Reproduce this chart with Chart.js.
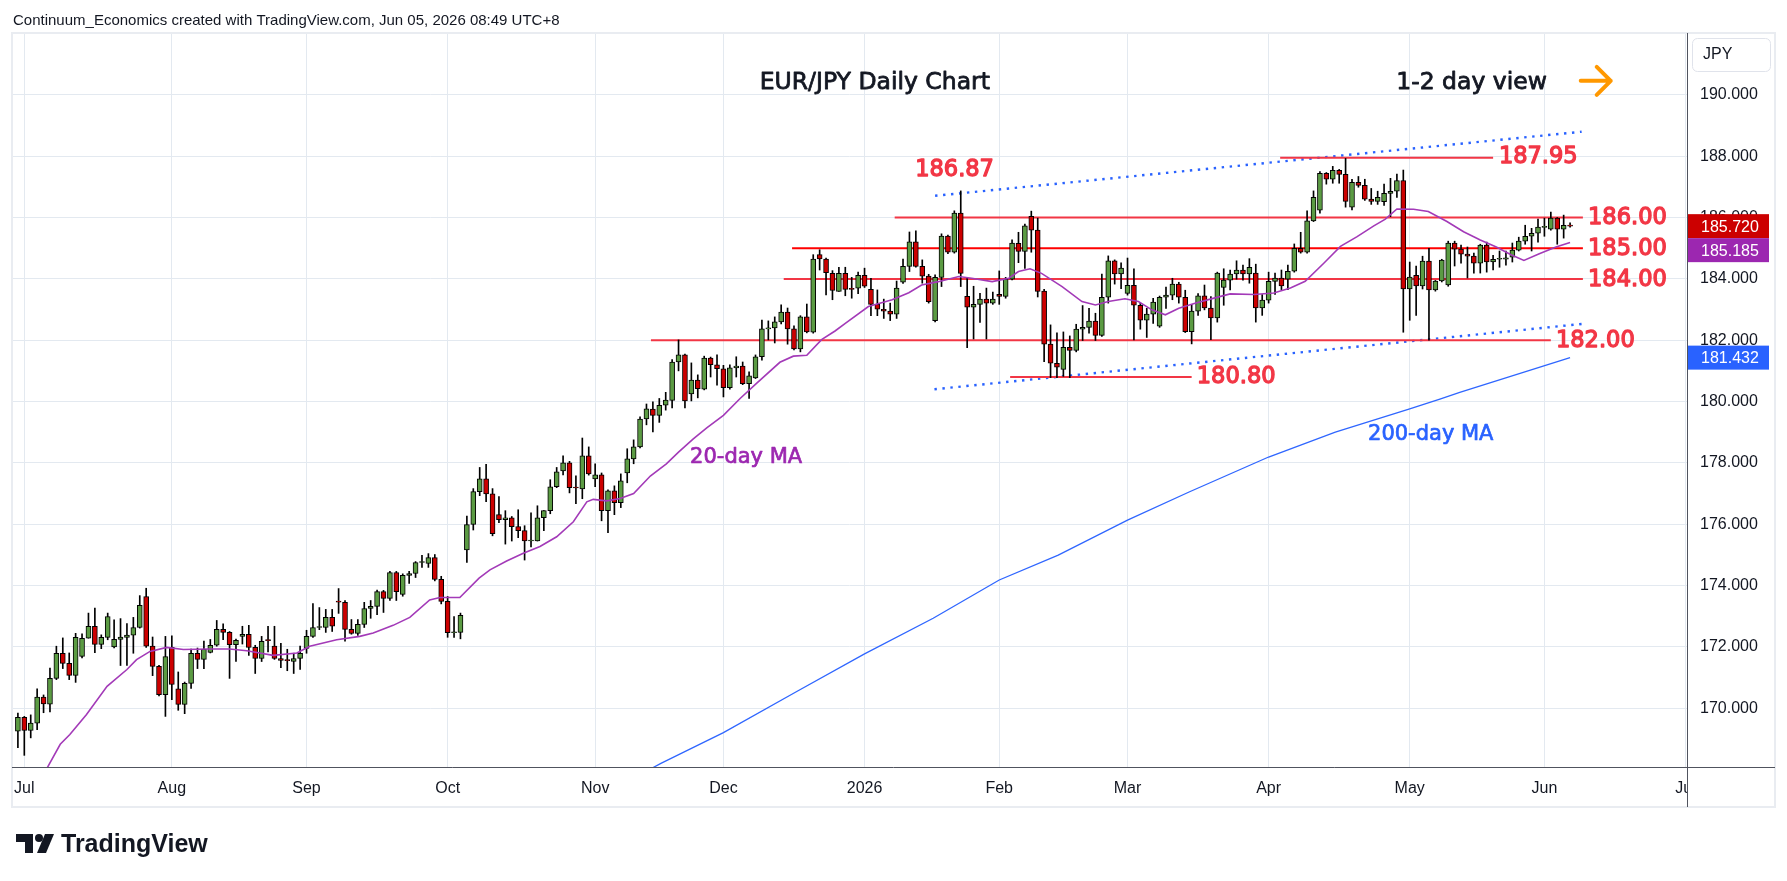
<!DOCTYPE html>
<html>
<head>
<meta charset="utf-8">
<script src="https://cdn.jsdelivr.net/npm/chart.js@4.4.1/dist/chart.umd.min.js"></script>
<style>
  html, body { margin: 0; padding: 0; background: #fff; }
  canvas { display: block; }
</style>
</head>
<body>
<canvas id="chart" width="1787" height="881"></canvas>
<script>
// trading days: weekdays from 30 Jun 2025 to 1 Jul 2026, minus the two FX holidays
const firstDay = '2025-06-30';
const lastDay = '2026-07-01';
const holidays = ['2025-12-25', '2026-01-01'];
const monthShort = ['Jan', 'Feb', 'Mar', 'Apr', 'May', 'Jun', 'Jul', 'Aug', 'Sep', 'Oct', 'Nov', 'Dec'];

// EUR/JPY daily OHLC, one value per trading day (index 0 = 30 Jun 2025)
const opens = [
  169.25,169.70,169.27,169.51,170.36,170.13,170.97,171.79,171.46,171.07,
  171.69,172.28,172.67,172.08,172.31,172.00,172.24,172.31,172.38,172.63,
  173.64,172.02,171.36,170.44,171.98,170.63,170.12,170.81,171.79,171.59,
  171.82,172.05,172.57,172.47,172.07,172.34,172.41,171.98,171.62,172.21,
  172.02,171.62,171.56,171.52,171.62,171.95,172.34,172.63,172.63,172.96,
  173.48,173.45,172.57,172.44,172.73,173.25,173.32,173.80,173.58,174.42,
  173.71,174.33,174.39,174.75,174.72,174.91,174.20,173.48,172.46,172.47,
  175.16,175.99,177.06,177.48,176.99,176.31,176.15,176.21,175.92,175.79,
  175.45,175.45,176.21,176.44,177.22,177.74,178.00,177.19,177.15,178.23,
  177.48,177.61,176.44,177.09,176.70,177.67,178.13,178.52,179.43,179.75,
  179.55,179.88,180.04,181.29,181.52,180.25,180.70,180.40,181.42,181.20,
  181.07,180.45,181.10,181.16,180.58,180.77,181.46,182.37,182.40,182.60,
  182.92,182.37,181.72,182.76,182.26,184.79,184.65,184.18,183.59,184.18,
  183.69,183.70,184.12,183.66,183.17,183.01,182.95,182.85,183.89,184.41,
  185.21,184.41,184.09,182.64,184.05,185.40,184.87,186.15,183.43,183.08,
  183.17,183.34,183.21,183.50,183.43,183.99,185.16,184.90,186.04,185.59,
  183.60,181.87,181.25,181.05,181.77,181.67,182.36,182.42,182.62,182.16,
  183.40,184.59,184.16,183.53,183.79,183.14,182.65,182.85,182.46,183.40,
  183.47,183.83,183.40,182.28,182.95,183.45,183.05,182.73,183.72,183.96,
  184.16,184.29,184.16,184.19,183.05,183.31,183.92,184.03,183.99,184.25,
  185.00,184.87,185.89,186.24,187.44,187.25,187.54,187.41,186.34,187.15,
  187.05,186.60,186.53,186.52,186.79,186.86,187.21,183.67,184.12,183.77,
  184.58,183.64,183.93,183.80,185.17,184.97,184.81,184.74,184.51,185.10,
  184.55,184.64,184.64,184.71,184.94,185.23,185.39,185.49,185.68,185.62,
  185.98,185.62,185.75
];
const highs = [
  169.84,169.73,169.78,170.63,170.43,171.31,172.02,172.29,171.80,172.44,
  172.42,173.10,173.26,172.39,173.10,172.88,172.92,172.76,172.96,173.67,
  173.91,172.32,171.40,172.34,172.36,171.18,170.85,171.93,171.96,172.19,
  172.24,172.86,172.75,172.50,172.25,172.67,172.70,172.05,172.34,172.67,
  172.67,172.11,171.92,171.79,172.02,172.54,173.41,173.28,173.22,173.22,
  173.90,173.51,172.89,172.89,173.45,173.51,173.85,173.84,174.46,174.46,
  174.38,174.46,174.78,174.98,175.04,175.01,174.30,173.64,172.99,173.10,
  176.26,177.16,177.85,177.95,177.16,176.90,176.44,176.25,176.47,175.95,
  176.37,176.60,176.44,177.45,177.85,178.23,178.05,177.58,178.81,178.52,
  177.97,177.67,177.12,177.25,177.64,178.46,178.75,179.50,179.92,179.99,
  180.10,180.30,181.37,182.01,181.55,181.26,180.87,181.48,181.45,181.52,
  181.18,181.20,181.46,181.29,180.97,181.52,182.66,182.63,182.76,183.15,
  183.05,182.47,182.80,183.18,184.79,184.95,184.68,184.27,184.38,184.38,
  184.05,184.22,184.35,184.02,183.64,183.34,183.21,183.93,184.65,185.53,
  185.57,184.62,184.15,184.13,185.47,185.43,186.22,186.87,184.05,183.76,
  183.53,183.70,183.57,184.26,184.05,185.27,185.52,185.79,186.21,185.98,
  183.66,182.50,182.24,182.27,182.14,182.52,183.13,183.04,182.88,184.16,
  184.75,184.62,184.52,184.68,184.33,183.21,183.04,183.37,183.44,183.73,
  184.02,183.89,183.63,183.17,183.52,183.80,183.42,184.22,184.33,184.29,
  184.59,184.45,184.66,184.48,183.49,184.22,184.19,184.29,184.45,185.14,
  185.52,186.22,186.87,187.50,187.47,187.67,187.57,187.93,187.25,187.34,
  187.25,186.95,186.86,187.09,187.28,187.42,187.55,184.55,184.42,184.74,
  185.00,183.95,184.64,185.23,185.23,185.10,185.04,184.84,185.13,185.20,
  184.77,184.91,184.91,185.17,185.36,185.75,185.65,185.95,185.98,186.18,
  186.00,186.08,185.83
];
const lows = [
  168.71,168.46,169.03,169.30,169.85,169.88,170.93,171.29,170.93,170.84,
  171.64,172.28,171.81,171.94,172.23,171.96,171.39,171.39,171.79,172.61,
  171.98,171.06,170.40,169.73,170.28,169.93,169.82,170.64,171.29,171.29,
  171.80,172.02,172.23,170.97,171.52,172.09,171.72,171.13,171.52,171.83,
  171.59,171.32,171.22,171.13,171.26,171.79,172.31,172.56,172.47,172.50,
  173.09,172.18,172.41,172.37,172.63,172.93,173.05,173.12,173.51,173.51,
  173.65,174.07,174.26,174.59,174.59,174.15,173.40,172.31,172.31,172.26,
  174.75,175.81,176.93,176.73,175.62,176.05,175.35,175.45,175.56,174.83,
  175.26,175.45,175.79,176.34,177.19,177.61,177.02,176.67,176.83,177.60,
  177.22,176.11,175.72,176.31,176.54,177.35,177.97,178.49,179.24,179.01,
  179.32,179.72,179.79,181.00,179.79,180.02,180.12,180.38,180.80,180.53,
  180.15,180.40,180.80,180.55,180.10,180.75,181.35,182.01,181.91,182.53,
  181.87,181.68,181.62,182.24,182.23,184.29,183.48,183.32,183.59,183.45,
  183.37,183.52,183.72,182.80,182.80,182.71,182.64,182.71,183.85,184.24,
  184.38,183.86,183.21,182.60,183.75,184.82,184.84,183.75,181.76,182.04,
  182.58,182.04,183.17,183.17,183.37,183.97,184.53,184.34,184.87,183.41,
  181.30,180.78,180.78,180.82,180.78,181.62,181.99,182.23,181.99,182.12,
  183.21,183.83,183.68,183.47,182.01,182.36,182.09,182.55,182.42,183.04,
  183.32,183.21,182.25,181.88,182.81,182.99,182.02,182.59,183.14,183.64,
  183.99,183.96,183.86,182.59,182.81,183.21,183.49,183.65,183.65,184.22,
  184.84,184.84,185.87,186.14,187.09,187.12,187.12,186.34,186.25,186.99,
  186.56,186.43,186.43,186.40,186.03,186.66,182.26,182.65,182.81,183.67,
  182.00,183.60,183.90,183.76,184.42,184.51,184.03,184.19,184.19,184.22,
  184.29,184.38,184.45,184.55,184.91,185.13,184.91,185.20,185.39,185.59,
  185.13,185.33,185.69
];
const closes = [
  169.70,169.27,169.51,170.36,170.14,170.97,171.79,171.46,171.07,172.31,
  172.28,172.67,172.08,172.31,172.99,172.24,172.32,172.38,172.63,173.35,
  172.02,171.36,170.44,171.68,170.77,170.12,170.81,171.79,171.59,171.92,
  172.05,172.57,172.47,172.07,172.21,172.41,171.98,171.62,172.18,172.20,
  171.62,171.56,171.55,171.62,171.79,172.34,172.63,172.65,172.96,172.67,
  173.46,172.57,172.44,172.73,173.25,173.32,173.80,173.58,174.42,173.80,
  174.33,174.39,174.75,174.76,174.91,174.20,173.48,172.46,172.47,173.03,
  175.99,177.06,177.48,176.99,175.69,176.15,176.21,175.92,175.79,175.45,
  175.46,176.21,176.44,177.22,177.71,178.00,177.19,177.18,178.23,177.64,
  177.61,176.44,177.09,176.70,177.41,178.13,178.52,179.43,179.76,179.55,
  179.88,180.05,181.29,181.52,180.02,180.70,180.42,181.42,181.20,181.07,
  180.45,181.10,181.16,180.58,180.84,181.46,182.37,182.39,182.60,182.92,
  182.37,181.72,182.76,182.27,184.65,184.65,184.20,183.62,184.18,183.66,
  183.66,184.12,183.76,183.17,183.01,182.95,182.85,183.70,184.41,185.21,
  184.41,184.09,183.26,184.05,185.40,184.87,186.15,184.18,183.08,183.17,
  183.34,183.21,183.34,183.43,183.99,185.17,184.90,185.73,185.59,183.59,
  181.87,181.25,181.12,181.77,181.67,182.36,182.42,182.62,182.16,183.40,
  184.59,184.16,184.35,183.79,183.14,182.65,182.85,183.24,183.40,183.47,
  183.83,183.40,182.28,182.95,183.45,183.05,182.73,184.19,183.96,184.16,
  184.29,184.16,184.38,183.05,183.31,183.92,184.03,183.77,184.25,185.00,
  184.87,185.89,186.66,187.44,187.25,187.54,187.41,186.53,187.15,187.05,
  186.60,186.53,186.66,186.79,186.86,187.21,183.67,184.06,183.77,184.58,
  183.64,183.93,184.61,185.17,184.97,184.81,184.74,184.51,185.10,184.55,
  184.64,184.66,184.69,184.94,185.23,185.39,185.49,185.69,185.69,185.98,
  185.62,185.75,185.72
];

// moving averages (bar index, price)
const ma20X = [4.3,6.6,8.1,10.7,13.9,17.0,18.5,20.6,23.2,25.8,29.9,33.0,35.7,39.8,43.5,45.5,49.7,53.3,55.4,58.5,
  61.1,64.2,65.8,68.9,71.9,73.6,76.2,78.8,81.4,84.0,86.6,88.7,89.7,91.8,93.9,96.0,98.6,101.1,103.0,105.3,
  107.4,110.0,112.6,115.2,118.8,120.9,123.0,125.3,127.4,129.0,132.6,136.3,138.9,140.9,143.5,146.7,148.7,151.9,154.5,156.0,
  157.8,159.6,162.8,165.9,168.0,170.0,172.6,174.7,176.8,178.9,181.0,183.4,185.9,189.0,192.7,195.8,198.4,200.7,203.6,206.2,
  208.8,211.4,213.2,215.0,217.6,219.9,222.8,225.4,228.0,230.5,232.8,234.8,237.2,239.8,242.0];
const ma20Y = [167.95,168.82,169.14,169.79,170.71,171.26,171.58,171.85,171.98,171.91,171.93,171.93,171.87,171.72,171.80,172.02,172.23,172.34,172.45,172.70,
  172.96,173.53,173.61,173.61,174.24,174.51,174.80,175.05,175.27,175.59,176.08,176.73,176.81,176.76,176.84,177.00,177.57,177.97,178.35,178.78,
  179.14,179.55,180.10,180.60,181.28,181.48,181.51,182.02,182.30,182.55,183.10,183.32,183.55,183.80,183.91,184.08,184.02,183.91,184.02,184.24,
  184.33,184.18,183.75,183.26,183.15,183.26,183.35,183.26,182.99,182.83,183.04,183.20,183.34,183.51,183.49,183.54,183.70,183.92,184.51,185.06,
  185.38,185.73,185.95,186.28,186.27,186.20,185.87,185.54,185.27,185.04,184.79,184.60,184.82,185.04,185.185];
const ma200X = [98.5,100.25,110,121.5,132,142.7,153,162.2,173,182.6,195,205.4,217,221.7,224.8,242];
const ma200Y = [168.0,168.20,169.20,170.55,171.77,172.93,174.18,174.99,176.13,177.05,178.19,179.0,179.76,180.08,180.30,181.432];

// horizontal levels drawn on the chart (price, from bar, to bar)
const levelPrices = [187.95, 186.00, 185.00, 184.00, 182.00, 180.80];
const levelFrom = [196.8, 136.7, 120.7, 119.4, 98.7, 154.7];
const levelTo = [230.0, 244.0, 244.0, 244.0, 239.0, 183.0];

// dotted channel (bar, price) pairs
const upperChannelX = [143.0, 243.8];
const upperChannelY = [186.71, 188.80];
const lowerChannelX = [142.9, 243.8];
const lowerChannelY = [180.40, 182.53];

// red price notes
const noteTexts = ['186.87', '187.95', '186.00', '185.00', '184.00', '182.00', '180.80'];
const noteX = [139.9, 230.9, 244.8, 244.8, 244.8, 239.8, 183.8];
const noteY = [187.59, 188.0, 186.0, 185.0, 184.0, 182.0, 180.84];

const yTicks = [170, 172, 174, 176, 178, 180, 182, 184, 186, 188, 190];
const lastMa20 = 185.185;
const lastMa200 = 181.432;

const UP = '#5b9b43';
const DOWN = '#cc0000';
const GRID = '#e3e9f0';
const TEXT = '#131722';
const TV_FONT = '"Liberation Sans", Arial, sans-serif';
const DRAW_FONT = '"DejaVu Sans", sans-serif';

// build the list of trading days
function buildDays() {
    const days = [];
    const d = new Date(firstDay + 'T00:00:00Z');
    const end = new Date(lastDay + 'T00:00:00Z');
    while (d <= end) {
        const iso = d.toISOString().slice(0, 10);
        const wd = d.getUTCDay();
        if (wd !== 0 && wd !== 6 && holidays.indexOf(iso) < 0) days.push(new Date(d));
        d.setUTCDate(d.getUTCDate() + 1);
    }
    return days;
}
const days = buildDays();

const monthStarts = [];
const monthLabels = {};
for (let i = 1; i < days.length; i++) {
    if (days[i].getUTCMonth() !== days[i - 1].getUTCMonth()) {
        monthStarts.push(i);
        const m = days[i].getUTCMonth();
        monthLabels[i] = m === 0 ? String(days[i].getUTCFullYear()) : monthShort[m];
    }
}

function pairs(xs, ys) {
    return xs.map((x, i) => ({ x: x, y: ys[i] }));
}

const wickData = lows.map((l, i) => ({ x: i, y: [l, highs[i]] }));
const bodyData = opens.map((o, i) => ({ x: i, y: [o, closes[i]] }));

const datasets = [];

levelPrices.forEach((p, i) => {
    datasets.push({
        type: 'line',
        data: [{ x: levelFrom[i], y: p }, { x: levelTo[i], y: p }],
        borderColor: p === 185 ? '#ff0000' : '#f23645',
        borderWidth: 2,
        pointRadius: 0,
        order: 6
    });
});

[[upperChannelX, upperChannelY], [lowerChannelX, lowerChannelY]].forEach(c => {
    datasets.push({
        type: 'line',
        data: pairs(c[0], c[1]),
        borderColor: '#2962ff',
        borderWidth: 2.4,
        borderDash: [2.4, 5.6],
        pointRadius: 0,
        order: 6
    });
});

datasets.push({
    type: 'bar',
    data: wickData,
    backgroundColor: '#000',
    borderWidth: 0,
    barThickness: 1,
    grouped: false,
    order: 4
});
datasets.push({
    type: 'bar',
    data: bodyData,
    backgroundColor: c => closes[c.dataIndex] >= opens[c.dataIndex] ? UP : DOWN,
    borderColor: '#000',
    borderWidth: 1,
    borderSkipped: false,
    barThickness: 5,
    minBarLength: 1,
    grouped: false,
    order: 3
});
datasets.push({
    type: 'line',
    data: pairs(ma20X, ma20Y),
    borderColor: '#a33ab8',
    borderWidth: 1.6,
    pointRadius: 0,
    order: 2
});
datasets.push({
    type: 'line',
    data: pairs(ma200X, ma200Y),
    borderColor: '#2f66ff',
    borderWidth: 1.3,
    pointRadius: 0,
    order: 2
});

function tag(ctx, x, yMid, w, color, text) {
    ctx.fillStyle = color;
    ctx.fillRect(x, yMid - 12, w, 24);
    ctx.fillStyle = '#fff';
    ctx.font = '16px ' + TV_FONT;
    ctx.textAlign = 'left';
    ctx.textBaseline = 'middle';
    ctx.fillText(text, x + 13, yMid + 1);
}

// heavier text: fill plus a thin outline in the same colour
function boldText(ctx, text, x, y, weight) {
    ctx.lineWidth = weight;
    ctx.strokeStyle = ctx.fillStyle;
    ctx.lineJoin = 'round';
    ctx.strokeText(text, x, y);
    ctx.fillText(text, x, y);
}

const decor = {
    id: 'decor',
    beforeDraw(chart) {
        const ctx = chart.ctx;
        ctx.save();
        ctx.fillStyle = '#fff';
        ctx.fillRect(0, 0, chart.width, chart.height);
        ctx.restore();
    },
    afterDatasetsDraw(chart) {
        const ctx = chart.ctx;
        const xs = chart.scales.x, ys = chart.scales.y;
        ctx.save();
        ctx.textBaseline = 'middle';
        ctx.textAlign = 'left';

        // red price notes
        ctx.fillStyle = '#f23645';
        ctx.font = '22.5px ' + DRAW_FONT;
        noteTexts.forEach((t, i) => {
            boldText(ctx, t, xs.getPixelForValue(noteX[i]), ys.getPixelForValue(noteY[i]) + 1, 1.3);
        });

        // titles
        ctx.fillStyle = TEXT;
        ctx.font = '23.5px ' + DRAW_FONT;
        ctx.textAlign = 'center';
        boldText(ctx, 'EUR/JPY Daily Chart', xs.getPixelForValue(133.6), ys.getPixelForValue(190.39), 0.8);
        ctx.textAlign = 'left';
        boldText(ctx, '1-2 day view', xs.getPixelForValue(214.9), ys.getPixelForValue(190.39), 0.8);

        // MA labels
        ctx.font = '21px ' + DRAW_FONT;
        ctx.fillStyle = '#9c27b0';
        boldText(ctx, '20-day MA', xs.getPixelForValue(104.8), ys.getPixelForValue(178.16), 0.7);
        ctx.fillStyle = '#2962ff';
        boldText(ctx, '200-day MA', xs.getPixelForValue(210.5), ys.getPixelForValue(178.91), 0.7);

        // orange arrow
        const ax = xs.getPixelForValue(246.0), ay = ys.getPixelForValue(190.46);
        ctx.strokeStyle = '#ff9800';
        ctx.lineWidth = 4;
        ctx.lineCap = 'round';
        ctx.lineJoin = 'round';
        ctx.beginPath();
        ctx.moveTo(ax - 15, ay);
        ctx.lineTo(ax + 15, ay);
        ctx.moveTo(ax + 1, ay - 14);
        ctx.lineTo(ax + 15, ay);
        ctx.lineTo(ax + 1, ay + 14);
        ctx.stroke();
        ctx.restore();
    },
    afterDraw(chart) {
        const ctx = chart.ctx;
        const area = chart.chartArea;
        const ys = chart.scales.y;
        ctx.save();

        // hide the part of the last month label that runs under the price scale
        ctx.fillStyle = '#fff';
        ctx.fillRect(area.right + 1, area.bottom + 1, 100, 40);

        // outer frame
        ctx.strokeStyle = '#e9ecf1';
        ctx.lineWidth = 2;
        ctx.strokeRect(12, 33, 1763, 774);

        // axis lines
        ctx.strokeStyle = '#50535e';
        ctx.lineWidth = 1;
        ctx.beginPath();
        ctx.moveTo(12, area.bottom + 0.5);
        ctx.lineTo(1775, area.bottom + 0.5);
        ctx.moveTo(area.right + 0.5, area.top);
        ctx.lineTo(area.right + 0.5, 807);
        ctx.stroke();

        // currency box
        ctx.strokeStyle = '#e0e3eb';
        ctx.fillStyle = '#fff';
        ctx.beginPath();
        ctx.roundRect(1692.5, 38.5, 78, 33, 5);
        ctx.fill();
        ctx.stroke();
        ctx.fillStyle = TEXT;
        ctx.font = '16px ' + TV_FONT;
        ctx.textBaseline = 'middle';
        ctx.textAlign = 'left';
        ctx.fillText('JPY', 1703, 55);

        // last value tags
        const yClose = ys.getPixelForValue(closes[closes.length - 1]);
        let yMa20 = ys.getPixelForValue(lastMa20);
        if (yMa20 < yClose + 24) yMa20 = yClose + 24;
        tag(ctx, area.right + 1, yClose, 81, '#cc0000', closes[closes.length - 1].toFixed(3));
        tag(ctx, area.right + 1, yMa20, 81, '#9c27b0', lastMa20.toFixed(3));
        tag(ctx, area.right + 1, ys.getPixelForValue(lastMa200), 81, '#2962ff', lastMa200.toFixed(3));

        // header
        ctx.fillStyle = TEXT;
        ctx.font = '15px ' + TV_FONT;
        ctx.textBaseline = 'alphabetic';
        ctx.fillText('Continuum_Economics created with TradingView.com, Jun 05, 2026 08:49 UTC+8', 13, 25);

        // TradingView mark
        ctx.beginPath();
        ctx.moveTo(16, 834); ctx.lineTo(33, 834); ctx.lineTo(33, 853); ctx.lineTo(25, 853);
        ctx.lineTo(25, 842); ctx.lineTo(16, 842); ctx.closePath();
        ctx.fill();
        ctx.beginPath();
        ctx.arc(39, 838, 4, 0, Math.PI * 2);
        ctx.fill();
        ctx.beginPath();
        ctx.moveTo(45, 834); ctx.lineTo(54, 834); ctx.lineTo(46, 853); ctx.lineTo(37, 853);
        ctx.closePath();
        ctx.fill();
        ctx.font = 'bold 25px ' + TV_FONT;
        ctx.fillText('TradingView', 61, 852);
        ctx.restore();
    }
};

new Chart(document.getElementById('chart').getContext('2d'), {
    type: 'bar',
    data: { datasets: datasets },
    options: {
        responsive: false,
        animation: false,
        events: [],
        layout: { padding: { top: 33, left: 12, right: 0, bottom: 0 }, autoPadding: false },
        plugins: { legend: { display: false }, tooltip: { enabled: false } },
        scales: {
            x: {
                type: 'linear',
                min: -0.92,
                max: 260.23,
                offset: false,
                border: { display: false },
                grid: { color: GRID, drawTicks: false, offset: false },
                afterBuildTicks: s => { s.ticks = monthStarts.map(v => ({ value: v })); },
                afterFit: s => { s.height = 114; },
                ticks: {
                    autoSkip: false,
                    maxRotation: 0,
                    padding: 12,
                    color: TEXT,
                    font: { family: TV_FONT, size: 16 },
                    callback: v => monthLabels[v] || ''
                }
            },
            y: {
                position: 'right',
                min: 168.08,
                max: 192.02,
                border: { display: false },
                grid: { color: GRID, drawTicks: false },
                afterBuildTicks: s => { s.ticks = yTicks.map(v => ({ value: v })); },
                afterFit: s => { s.width = 100; },
                ticks: {
                    padding: 13,
                    color: TEXT,
                    font: { family: TV_FONT, size: 16 },
                    callback: v => v.toFixed(3)
                }
            }
        }
    },
    plugins: [decor]
});
</script>
</body>
</html>
